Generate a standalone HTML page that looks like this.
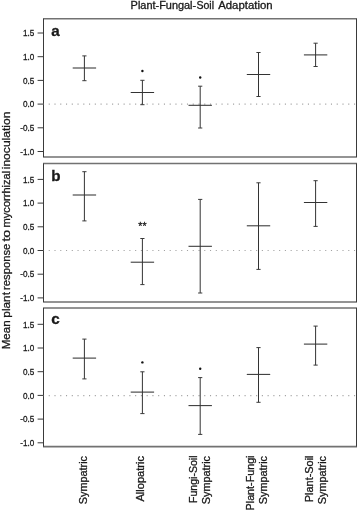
<!DOCTYPE html>
<html lang="en"><head><meta charset="utf-8"><title>Plant-Fungal-Soil Adaptation</title>
<style>html,body{margin:0;padding:0;background:#fff;overflow:hidden;}svg{display:block;}text{font-family:"Liberation Sans",sans-serif;fill:#1a1a1a;stroke:#1a1a1a;stroke-width:0.3;}</style></head><body>
<svg width="358" height="512" viewBox="0 0 358 512">
<rect width="358" height="512" fill="#fff"/>
<text x="130.6" y="8.9" font-size="10" textLength="65.6" lengthAdjust="spacingAndGlyphs">Plant-Fungal-</text>
<text x="196.4" y="8.9" font-size="10" textLength="17.6" lengthAdjust="spacingAndGlyphs">Soil</text>
<text x="218.2" y="8.9" font-size="10" textLength="54.4" lengthAdjust="spacingAndGlyphs">Adaptation</text>
<text transform="translate(9.7,349.30) rotate(-90)" font-size="11.8" textLength="28.90" lengthAdjust="spacingAndGlyphs">Mean</text>
<text transform="translate(9.7,317.70) rotate(-90)" font-size="11.8" textLength="25.70" lengthAdjust="spacingAndGlyphs">plant</text>
<text transform="translate(9.7,290.00) rotate(-90)" font-size="11.8" textLength="46.30" lengthAdjust="spacingAndGlyphs">response</text>
<text transform="translate(9.7,241.60) rotate(-90)" font-size="11.8" textLength="11.90" lengthAdjust="spacingAndGlyphs">to</text>
<text transform="translate(9.7,227.40) rotate(-90)" font-size="11.8" textLength="56.60" lengthAdjust="spacingAndGlyphs">mycorrhizal</text>
<text transform="translate(9.7,169.30) rotate(-90)" font-size="11.8" textLength="57.80" lengthAdjust="spacingAndGlyphs">inoculation</text>
<g>
<path d="M43.00 18.80H357.00M43.00 157.00H357.00" fill="none" stroke="#727272" stroke-width="1.6"/>
<path d="M43.50 18.80V157.00M356.50 18.80V157.00" fill="none" stroke="#3a3a3a" stroke-width="1"/>
<line x1="43.5" x2="356.5" y1="104.1" y2="104.1" stroke="#a2a2a2" stroke-width="1.2" stroke-dasharray="1.1 4.66" stroke-dashoffset="-5.2"/>
<line x1="37.6" x2="43.5" y1="33.0" y2="33.0" stroke="#3a3a3a" stroke-width="1"/>
<text transform="translate(34.4,36.2) scale(0.85,1)" font-size="9.6" text-anchor="end" stroke-width="0.2">1.5</text>
<line x1="37.6" x2="43.5" y1="56.7" y2="56.7" stroke="#3a3a3a" stroke-width="1"/>
<text transform="translate(34.4,59.9) scale(0.85,1)" font-size="9.6" text-anchor="end" stroke-width="0.2">1.0</text>
<line x1="37.6" x2="43.5" y1="80.4" y2="80.4" stroke="#3a3a3a" stroke-width="1"/>
<text transform="translate(34.4,83.6) scale(0.85,1)" font-size="9.6" text-anchor="end" stroke-width="0.2">0.5</text>
<line x1="37.6" x2="43.5" y1="104.1" y2="104.1" stroke="#3a3a3a" stroke-width="1"/>
<text transform="translate(34.4,107.3) scale(0.85,1)" font-size="9.6" text-anchor="end" stroke-width="0.2">0.0</text>
<line x1="37.6" x2="43.5" y1="127.8" y2="127.8" stroke="#3a3a3a" stroke-width="1"/>
<text transform="translate(34.4,131.0) scale(0.85,1)" font-size="9.6" text-anchor="end" stroke-width="0.2">-0.5</text>
<line x1="37.6" x2="43.5" y1="151.5" y2="151.5" stroke="#3a3a3a" stroke-width="1"/>
<text transform="translate(34.4,154.7) scale(0.85,1)" font-size="9.6" text-anchor="end" stroke-width="0.2">-1.0</text>
<text x="51.2" y="36.0" font-size="15.2" font-weight="bold" fill="#000" stroke="#000" stroke-width="0.55">a</text>
<path d="M84.4 55.9V80.7" fill="none" stroke="#1c1c1c" stroke-width="0.9"/>
<path d="M82.3 55.9h4.2M82.3 80.7h4.2" fill="none" stroke="#3a3a3a" stroke-width="1.0"/>
<path d="M72.7 68.0h23.4" fill="none" stroke="#333" stroke-width="1.05"/>
<path d="M142.4 80.3V104.7" fill="none" stroke="#1c1c1c" stroke-width="0.9"/>
<path d="M140.3 80.3h4.2M140.3 104.7h4.2" fill="none" stroke="#3a3a3a" stroke-width="1.0"/>
<path d="M130.7 92.5h23.4" fill="none" stroke="#333" stroke-width="1.05"/>
<circle cx="142.4" cy="71.0" r="1.2" fill="#111"/>
<path d="M200.2 86.2V128.0" fill="none" stroke="#1c1c1c" stroke-width="0.9"/>
<path d="M198.1 86.2h4.2M198.1 128.0h4.2" fill="none" stroke="#3a3a3a" stroke-width="1.0"/>
<path d="M188.5 105.3h23.4" fill="none" stroke="#333" stroke-width="1.05"/>
<circle cx="200.2" cy="77.5" r="1.2" fill="#111"/>
<path d="M258.5 52.5V96.5" fill="none" stroke="#1c1c1c" stroke-width="0.9"/>
<path d="M256.4 52.5h4.2M256.4 96.5h4.2" fill="none" stroke="#3a3a3a" stroke-width="1.0"/>
<path d="M246.8 74.5h23.4" fill="none" stroke="#333" stroke-width="1.05"/>
<path d="M315.6 43.2V66.5" fill="none" stroke="#1c1c1c" stroke-width="0.9"/>
<path d="M313.5 43.2h4.2M313.5 66.5h4.2" fill="none" stroke="#3a3a3a" stroke-width="1.0"/>
<path d="M303.9 54.9h23.4" fill="none" stroke="#333" stroke-width="1.05"/>
</g>
<g>
<path d="M43.00 163.55H357.00M43.00 302.00H357.00" fill="none" stroke="#727272" stroke-width="1.6"/>
<path d="M43.50 163.55V302.00M356.50 163.55V302.00" fill="none" stroke="#3a3a3a" stroke-width="1"/>
<line x1="43.5" x2="356.5" y1="250.5" y2="250.5" stroke="#a2a2a2" stroke-width="1.2" stroke-dasharray="1.1 4.66" stroke-dashoffset="-5.2"/>
<line x1="37.6" x2="43.5" y1="179.4" y2="179.4" stroke="#3a3a3a" stroke-width="1"/>
<text transform="translate(34.4,182.6) scale(0.85,1)" font-size="9.6" text-anchor="end" stroke-width="0.2">1.5</text>
<line x1="37.6" x2="43.5" y1="203.1" y2="203.1" stroke="#3a3a3a" stroke-width="1"/>
<text transform="translate(34.4,206.3) scale(0.85,1)" font-size="9.6" text-anchor="end" stroke-width="0.2">1.0</text>
<line x1="37.6" x2="43.5" y1="226.8" y2="226.8" stroke="#3a3a3a" stroke-width="1"/>
<text transform="translate(34.4,230.0) scale(0.85,1)" font-size="9.6" text-anchor="end" stroke-width="0.2">0.5</text>
<line x1="37.6" x2="43.5" y1="250.5" y2="250.5" stroke="#3a3a3a" stroke-width="1"/>
<text transform="translate(34.4,253.7) scale(0.85,1)" font-size="9.6" text-anchor="end" stroke-width="0.2">0.0</text>
<line x1="37.6" x2="43.5" y1="274.2" y2="274.2" stroke="#3a3a3a" stroke-width="1"/>
<text transform="translate(34.4,277.4) scale(0.85,1)" font-size="9.6" text-anchor="end" stroke-width="0.2">-0.5</text>
<line x1="37.6" x2="43.5" y1="297.9" y2="297.9" stroke="#3a3a3a" stroke-width="1"/>
<text transform="translate(34.4,301.1) scale(0.85,1)" font-size="9.6" text-anchor="end" stroke-width="0.2">-1.0</text>
<text x="51.2" y="181.0" font-size="15.2" font-weight="bold" fill="#000" stroke="#000" stroke-width="0.55">b</text>
<path d="M84.4 171.7V220.9" fill="none" stroke="#1c1c1c" stroke-width="0.9"/>
<path d="M82.3 171.7h4.2M82.3 220.9h4.2" fill="none" stroke="#3a3a3a" stroke-width="1.0"/>
<path d="M72.7 195.0h23.4" fill="none" stroke="#333" stroke-width="1.05"/>
<path d="M142.4 238.5V284.6" fill="none" stroke="#1c1c1c" stroke-width="0.9"/>
<path d="M140.3 238.5h4.2M140.3 284.6h4.2" fill="none" stroke="#3a3a3a" stroke-width="1.0"/>
<path d="M130.7 262.2h23.4" fill="none" stroke="#333" stroke-width="1.05"/>
<text x="142.4" y="230.1" font-size="10.5" text-anchor="middle">**</text>
<path d="M200.2 199.4V293.0" fill="none" stroke="#1c1c1c" stroke-width="0.9"/>
<path d="M198.1 199.4h4.2M198.1 293.0h4.2" fill="none" stroke="#3a3a3a" stroke-width="1.0"/>
<path d="M188.5 246.3h23.4" fill="none" stroke="#333" stroke-width="1.05"/>
<path d="M258.5 182.8V269.4" fill="none" stroke="#1c1c1c" stroke-width="0.9"/>
<path d="M256.4 182.8h4.2M256.4 269.4h4.2" fill="none" stroke="#3a3a3a" stroke-width="1.0"/>
<path d="M246.8 225.8h23.4" fill="none" stroke="#333" stroke-width="1.05"/>
<path d="M315.6 180.7V226.4" fill="none" stroke="#1c1c1c" stroke-width="0.9"/>
<path d="M313.5 180.7h4.2M313.5 226.4h4.2" fill="none" stroke="#3a3a3a" stroke-width="1.0"/>
<path d="M303.9 202.5h23.4" fill="none" stroke="#333" stroke-width="1.05"/>
</g>
<g>
<path d="M43.00 308.00H357.00M43.00 446.60H357.00" fill="none" stroke="#727272" stroke-width="1.6"/>
<path d="M43.50 308.00V446.60M356.50 308.00V446.60" fill="none" stroke="#3a3a3a" stroke-width="1"/>
<line x1="43.5" x2="356.5" y1="395.6" y2="395.6" stroke="#a2a2a2" stroke-width="1.2" stroke-dasharray="1.1 4.66" stroke-dashoffset="-5.2"/>
<line x1="37.6" x2="43.5" y1="324.3" y2="324.3" stroke="#3a3a3a" stroke-width="1"/>
<text transform="translate(34.4,327.5) scale(0.85,1)" font-size="9.6" text-anchor="end" stroke-width="0.2">1.5</text>
<line x1="37.6" x2="43.5" y1="348.0" y2="348.0" stroke="#3a3a3a" stroke-width="1"/>
<text transform="translate(34.4,351.2) scale(0.85,1)" font-size="9.6" text-anchor="end" stroke-width="0.2">1.0</text>
<line x1="37.6" x2="43.5" y1="371.7" y2="371.7" stroke="#3a3a3a" stroke-width="1"/>
<text transform="translate(34.4,374.9) scale(0.85,1)" font-size="9.6" text-anchor="end" stroke-width="0.2">0.5</text>
<line x1="37.6" x2="43.5" y1="395.4" y2="395.4" stroke="#3a3a3a" stroke-width="1"/>
<text transform="translate(34.4,398.6) scale(0.85,1)" font-size="9.6" text-anchor="end" stroke-width="0.2">0.0</text>
<line x1="37.6" x2="43.5" y1="419.1" y2="419.1" stroke="#3a3a3a" stroke-width="1"/>
<text transform="translate(34.4,422.3) scale(0.85,1)" font-size="9.6" text-anchor="end" stroke-width="0.2">-0.5</text>
<line x1="37.6" x2="43.5" y1="442.8" y2="442.8" stroke="#3a3a3a" stroke-width="1"/>
<text transform="translate(34.4,446.0) scale(0.85,1)" font-size="9.6" text-anchor="end" stroke-width="0.2">-1.0</text>
<text x="51.2" y="323.8" font-size="15.2" font-weight="bold" fill="#000" stroke="#000" stroke-width="0.55">c</text>
<path d="M84.4 339.1V378.9" fill="none" stroke="#1c1c1c" stroke-width="0.9"/>
<path d="M82.3 339.1h4.2M82.3 378.9h4.2" fill="none" stroke="#3a3a3a" stroke-width="1.0"/>
<path d="M72.7 358.1h23.4" fill="none" stroke="#333" stroke-width="1.05"/>
<path d="M142.4 371.8V413.6" fill="none" stroke="#1c1c1c" stroke-width="0.9"/>
<path d="M140.3 371.8h4.2M140.3 413.6h4.2" fill="none" stroke="#3a3a3a" stroke-width="1.0"/>
<path d="M130.7 392.1h23.4" fill="none" stroke="#333" stroke-width="1.05"/>
<circle cx="142.4" cy="362.4" r="1.2" fill="#111"/>
<path d="M200.2 377.6V434.4" fill="none" stroke="#1c1c1c" stroke-width="0.9"/>
<path d="M198.1 377.6h4.2M198.1 434.4h4.2" fill="none" stroke="#3a3a3a" stroke-width="1.0"/>
<path d="M188.5 405.6h23.4" fill="none" stroke="#333" stroke-width="1.05"/>
<circle cx="200.2" cy="368.8" r="1.2" fill="#111"/>
<path d="M258.5 347.6V402.3" fill="none" stroke="#1c1c1c" stroke-width="0.9"/>
<path d="M256.4 347.6h4.2M256.4 402.3h4.2" fill="none" stroke="#3a3a3a" stroke-width="1.0"/>
<path d="M246.8 374.4h23.4" fill="none" stroke="#333" stroke-width="1.05"/>
<path d="M315.6 326.1V365.1" fill="none" stroke="#1c1c1c" stroke-width="0.9"/>
<path d="M313.5 326.1h4.2M313.5 365.1h4.2" fill="none" stroke="#3a3a3a" stroke-width="1.0"/>
<path d="M303.9 344.1h23.4" fill="none" stroke="#333" stroke-width="1.05"/>
</g>
<text transform="translate(86.5,456.0) rotate(-90)" font-size="10.8" text-anchor="end" textLength="48.2" lengthAdjust="spacingAndGlyphs">Sympatric</text>
<text transform="translate(144.1,456.0) rotate(-90)" font-size="10.8" text-anchor="end" textLength="45.6" lengthAdjust="spacingAndGlyphs">Allopatric</text>
<text transform="translate(196.8,455.5) rotate(-90)" font-size="10.8" text-anchor="end" textLength="47.5" lengthAdjust="spacingAndGlyphs">Fungi-Soil</text>
<text transform="translate(209.7,456.0) rotate(-90)" font-size="10.8" text-anchor="end" textLength="48.2" lengthAdjust="spacingAndGlyphs">Sympatric</text>
<text transform="translate(254.1,455.5) rotate(-90)" font-size="10.8" text-anchor="end" textLength="54.9" lengthAdjust="spacingAndGlyphs">Plant-Fungi</text>
<text transform="translate(267.2,456.0) rotate(-90)" font-size="10.8" text-anchor="end" textLength="48.2" lengthAdjust="spacingAndGlyphs">Sympatric</text>
<text transform="translate(312.9,455.5) rotate(-90)" font-size="10.8" text-anchor="end" textLength="46.7" lengthAdjust="spacingAndGlyphs">Plant-Soil</text>
<text transform="translate(326.1,456.0) rotate(-90)" font-size="10.8" text-anchor="end" textLength="48.2" lengthAdjust="spacingAndGlyphs">Sympatric</text>
</svg></body></html>
